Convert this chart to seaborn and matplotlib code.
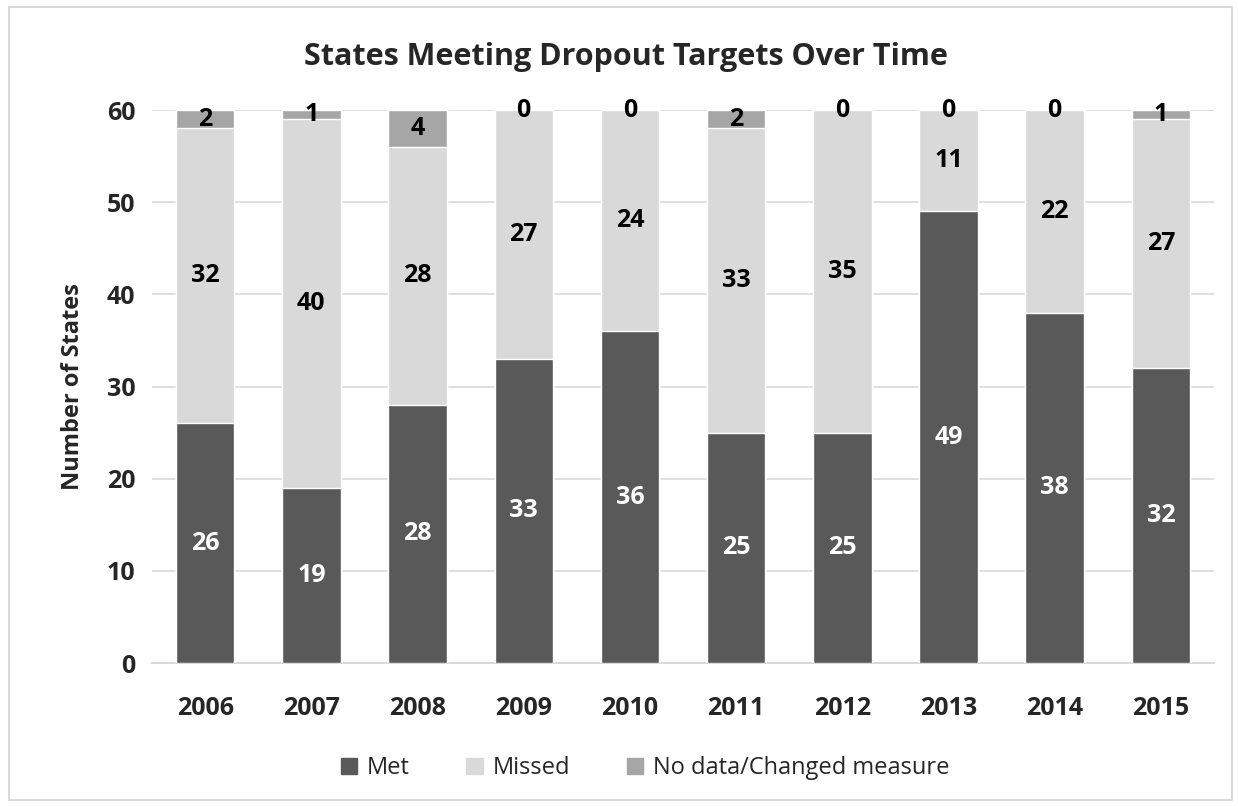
import numpy as np
import pandas as pd
import matplotlib
matplotlib.use("Agg")
import matplotlib.pyplot as plt
import seaborn as sns
from matplotlib.patches import Patch, Rectangle

years = ["2006", "2007", "2008", "2009", "2010", "2011", "2012", "2013", "2014", "2015"]
met = [26, 19, 28, 33, 36, 25, 25, 49, 38, 32]
missed = [32, 40, 28, 27, 24, 33, 35, 11, 22, 27]
no_data = [2, 1, 4, 0, 0, 2, 0, 0, 0, 1]

c_met = "#595959"
c_missed = "#d9d9d9"
c_nodata = "#a6a6a6"

sns.set_theme(style="white")
plt.rcParams["font.family"] = ["Open Sans", "DejaVu Sans"]

df = pd.DataFrame({"Year": years, "Met": met, "Missed": missed, "No data": no_data})
df["MetMissed"] = df["Met"] + df["Missed"]
df["Total"] = df["MetMissed"] + df["No data"]

fig = plt.figure(figsize=(12.38, 8.06), dpi=100)
ax = fig.add_axes([0.1228, 0.1774, 0.8578, 0.6861])

# layered bars: total, then met+missed, then met
sns.barplot(data=df, x="Year", y="Total", color=c_nodata, width=0.55, ax=ax, zorder=2, saturation=1)
sns.barplot(data=df, x="Year", y="MetMissed", color=c_missed, width=0.55, ax=ax, zorder=3, saturation=1)
sns.barplot(data=df, x="Year", y="Met", color=c_met, width=0.55, ax=ax, zorder=4, saturation=1)

lab_kw = dict(ha="center", va="center", fontsize=18, fontweight="bold", zorder=6)
for i in range(len(years)):
    ax.text(i, met[i] / 2, str(met[i]), color="white", **lab_kw)
    ax.text(i, met[i] + missed[i] / 2, str(missed[i]), color="black", **lab_kw)
    ax.text(i, met[i] + missed[i] + no_data[i] / 2, str(no_data[i]), color="black", **lab_kw)

ax.set_ylim(0, 60)
ax.set_xlim(-0.5, len(years) - 0.5)
ax.set_yticks(range(0, 61, 10))
ax.yaxis.grid(True, color="#d9d9d9", linewidth=1.2, zorder=0)
ax.set_axisbelow(True)
for s in ["top", "right", "left"]:
    ax.spines[s].set_visible(False)
ax.spines["bottom"].set_color("#d9d9d9")
ax.spines["bottom"].set_linewidth(1.5)
ax.tick_params(axis="both", length=0, labelsize=18, pad=12)
for t in ax.get_xticklabels() + ax.get_yticklabels():
    t.set_fontweight("bold")
ax.tick_params(axis="x", pad=24)
ax.set_xlabel("")
ax.set_ylabel("Number of States", fontsize=17, fontweight="bold", labelpad=16)

fig.text(0.506, 0.929, "States Meeting Dropout Targets Over Time", ha="center", va="center",
         fontsize=22, fontweight="bold")

handles = [Patch(color=c_met, label="Met"), Patch(color=c_missed, label="Missed"),
           Patch(color=c_nodata, label="No data/Changed measure")]
fig.legend(handles=handles, loc="center", bbox_to_anchor=(0.521, 0.047), ncol=3, frameon=False,
           fontsize=17, handlelength=0.7, handleheight=0.7, handletextpad=0.4, columnspacing=2.4)

fig.patches.append(Rectangle((9 / 1238, 6 / 806), 1223 / 1238, 793 / 806, transform=fig.transFigure,
                             fill=False, edgecolor="#d9d9d9", linewidth=1.5))

fig.savefig("out.png", dpi=100)
